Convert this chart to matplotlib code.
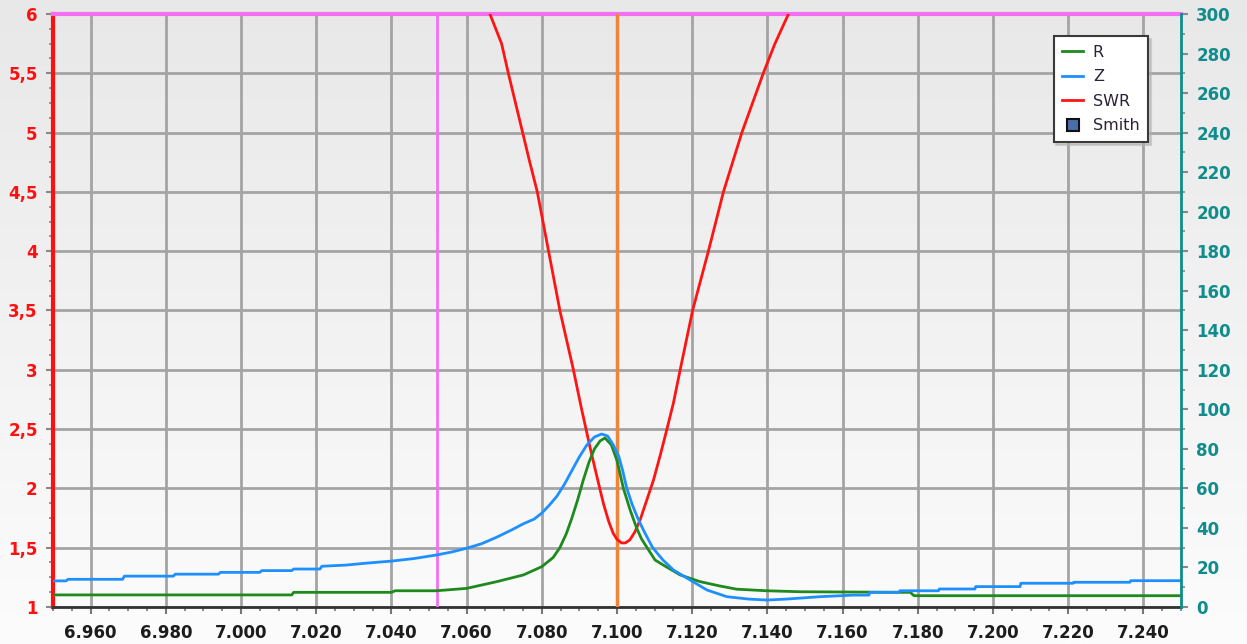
#!/usr/bin/env python3
"""
plot.py
Antenna analyser sweep: SWR (left axis), R and Z (right axis, ohms).
"""

import numpy as np
import matplotlib.pyplot as plt
from matplotlib.lines import Line2D
from matplotlib.colors import LinearSegmentedColormap
from matplotlib.ticker import MultipleLocator, FuncFormatter

# ------------------------------------------------------------------
# 1  sweep data (MHz / ratio / ohm)
# ------------------------------------------------------------------
swr_freq = [7.0640, 7.0662, 7.0693, 7.0711, 7.0730, 7.0749, 7.0768, 7.0788,
            7.0818, 7.0848, 7.0884, 7.0905, 7.0928, 7.0945, 7.0964, 7.0978,
            7.0990, 7.1000, 7.1012, 7.1022, 7.1034, 7.1047, 7.1061, 7.1079,
            7.1097, 7.1115, 7.1132, 7.1150, 7.1168, 7.1201, 7.1243, 7.1283,
            7.1332, 7.1389, 7.1420, 7.1456, 7.1475]
swr_val = [6.30, 6.00, 5.75, 5.50, 5.25, 5.00, 4.75, 4.50,
           4.00, 3.50, 3.00, 2.68, 2.35, 2.12, 1.87, 1.72,
           1.62, 1.57, 1.54, 1.54, 1.565, 1.63, 1.73, 1.90,
           2.07, 2.28, 2.49, 2.72, 3.00, 3.50, 4.00, 4.50,
           5.00, 5.50, 5.75, 6.00, 6.30]

r_freq = [6.9500, 7.0135, 7.0140, 7.0400, 7.0410, 7.0520, 7.0600, 7.0680,
          7.0751, 7.0800, 7.0830, 7.0848, 7.0865, 7.0880, 7.0895, 7.0910,
          7.0925, 7.0940, 7.0955, 7.0968, 7.0985, 7.1000, 7.1017, 7.1035,
          7.1052, 7.1065, 7.1080, 7.1101, 7.1123, 7.1168, 7.1221, 7.1274,
          7.1318, 7.1398, 7.1487, 7.1780, 7.1790, 7.2500]
r_ohm = [6.1, 6.1, 7.4, 7.4, 8.2, 8.2, 9.4, 12.8,
         16.2, 20.4, 25.0, 30.0, 37.0, 45.0, 54.0, 64.0,
         73.0, 80.0, 84.0, 85.5, 82.0, 74.0, 60.0, 49.0,
         40.0, 34.5, 30.0, 23.8, 21.2, 16.2, 12.8, 10.6,
         9.0, 8.2, 7.7, 7.4, 5.7, 5.7]

z_freq = [6.9500, 6.9535, 6.9540, 6.9685, 6.9690, 6.9820, 6.9825, 6.9940,
          6.9945, 7.0050, 7.0055, 7.0135, 7.0140, 7.0210, 7.0215, 7.0280,
          7.0335, 7.0400, 7.0460, 7.0520, 7.0560, 7.0600, 7.0640, 7.0680,
          7.0720, 7.0750, 7.0780, 7.0800, 7.0820, 7.0840, 7.0860, 7.0880,
          7.0900, 7.0920, 7.0940, 7.0959, 7.0975, 7.0990, 7.1005, 7.1015,
          7.1026, 7.1040, 7.1055, 7.1070, 7.1085, 7.1095, 7.1110, 7.1122,
          7.1150, 7.1194, 7.1239, 7.1292, 7.1350, 7.1398, 7.1451, 7.1540,
          7.1628, 7.1670, 7.1672, 7.1750, 7.1752, 7.1855, 7.1857, 7.1952,
          7.1954, 7.2072, 7.2074, 7.2213, 7.2215, 7.2364, 7.2366, 7.2500]
z_ohm = [13.2, 13.2, 14.0, 14.0, 15.6, 15.6, 16.6, 16.6,
         17.5, 17.5, 18.4, 18.4, 19.2, 19.2, 20.6, 21.2,
         22.2, 23.2, 24.5, 26.3, 27.8, 29.7, 32.0, 35.3,
         39.0, 42.0, 44.5, 47.5, 51.5, 56.0, 62.0, 69.0,
         76.0, 82.0, 86.0, 87.5, 86.5, 82.0, 76.0, 69.0,
         60.0, 52.0, 45.0, 39.0, 33.5, 30.0, 26.5, 23.8,
         18.7, 13.7, 8.6, 5.2, 4.0, 3.5, 4.0, 5.2,
         6.0, 6.0, 7.4, 7.4, 8.2, 8.2, 9.1, 9.1,
         10.3, 10.3, 12.0, 12.0, 12.5, 12.5, 13.3, 13.3]

marker_left = 7.052     # magenta marker
marker_center = 7.100   # orange centre marker

# ------------------------------------------------------------------
# 2  figure + gradient background
# ------------------------------------------------------------------
plt.rcParams["font.family"] = ["DejaVu Sans"]
plt.rcParams["font.weight"] = "bold"

fig = plt.figure(figsize=(12.47, 6.44), dpi=100)

bg = fig.add_axes([0, 0, 1, 1], zorder=-10)
grad = np.linspace(0, 1, 256).reshape(-1, 1)
bg_cmap = LinearSegmentedColormap.from_list("bg", ["#fcfcfc", "#e8e8e8"])
bg.imshow(grad, aspect="auto", cmap=bg_cmap, origin="lower", extent=[0, 1, 0, 1])
bg.axis("off")

ax = fig.add_axes([0.0425, 0.0575, 0.9046, 0.9208])
ax.set_facecolor("none")
ax2 = ax.twinx()

# ------------------------------------------------------------------
# 3  axes, ticks, grid
# ------------------------------------------------------------------
ax.set_xlim(6.95, 7.25)
ax.set_ylim(1, 6)
ax2.set_ylim(0, 300)

ax.xaxis.set_major_locator(MultipleLocator(0.02))
ax.xaxis.set_minor_locator(MultipleLocator(0.005))
ax.xaxis.set_major_formatter(FuncFormatter(lambda v, _: f"{v:.3f}"))
ax.yaxis.set_major_locator(MultipleLocator(0.5))
ax.yaxis.set_minor_locator(MultipleLocator(0.125))
ax.yaxis.set_major_formatter(FuncFormatter(lambda v, _: f"{v:g}".replace(".", ",")))
ax2.yaxis.set_major_locator(MultipleLocator(20))
ax2.yaxis.set_minor_locator(MultipleLocator(10))

ax.grid(which="major", color="#a4a4a4", lw=2)
ax.set_axisbelow(True)

ax.tick_params(axis="x", which="both", colors="#777777", labelcolor="#1c1c1c",
               labelsize=12, pad=7)
ax.tick_params(axis="x", which="major", length=5, width=1.5)
ax.tick_params(axis="x", which="minor", length=3, width=1.2)
ax.tick_params(axis="y", which="both", colors="#888888", labelcolor="#ff1010",
               labelsize=12, pad=6)
ax.tick_params(axis="y", which="major", length=5, width=1.5)
ax.tick_params(axis="y", which="minor", length=3, width=1.2)
ax2.tick_params(axis="y", which="both", colors="#888888", labelcolor="#108c8c",
                labelsize=12, pad=6)
ax2.tick_params(axis="y", which="major", length=5, width=1.5)
ax2.tick_params(axis="y", which="minor", length=3, width=1.2)

for s in ("top", "right"):
    ax.spines[s].set_visible(False)
for s in ("top", "left", "bottom"):
    ax2.spines[s].set_visible(False)
ax.spines["left"].set_color("#ff1010")
ax.spines["left"].set_linewidth(3)
ax.spines["bottom"].set_color("#333333")
ax.spines["bottom"].set_linewidth(2)
ax2.spines["right"].set_color("#108c8c")
ax2.spines["right"].set_linewidth(2)

# markers
ax.axhline(6, color="#f370f3", lw=3, clip_on=False, zorder=3)
ax.axvline(marker_left, color="#f370f3", lw=2, zorder=3)
ax.axvline(marker_center, color="#f0843a", lw=2.5, zorder=3)

# ------------------------------------------------------------------
# 4  curves
# ------------------------------------------------------------------
ax.plot(swr_freq, swr_val, color="#ff1414", lw=2, zorder=4)
ax2.plot(r_freq, r_ohm, color="#1e8a1e", lw=2)
ax2.plot(z_freq, z_ohm, color="#1e8fff", lw=2)

handles = [
    Line2D([], [], color="#1e8a1e", lw=2),
    Line2D([], [], color="#1e8fff", lw=2),
    Line2D([], [], color="#ff1414", lw=2),
    Line2D([], [], ls="", marker="s", markersize=9,
           markerfacecolor="#4a6fa8", markeredgecolor="#111111", markeredgewidth=1.5),
]
leg = ax2.legend(handles, ["R", "Z", "SWR", "Smith"], loc="upper right",
                 bbox_to_anchor=(0.971, 0.963), borderaxespad=0,
                 prop={"weight": "normal", "size": 11.5},
                 handlelength=1.3, handletextpad=0.6, labelspacing=0.6,
                 borderpad=0.55, fancybox=False, framealpha=1,
                 edgecolor="#3a3a3a", facecolor="white",
                 shadow={"ox": 2, "oy": -2, "color": "#b0b0b0"})
leg.get_frame().set_linewidth(1.5)
for t in leg.get_texts():
    t.set_color("#2a2238")

fig.savefig("out.png", dpi=100)
plt.close(fig)
